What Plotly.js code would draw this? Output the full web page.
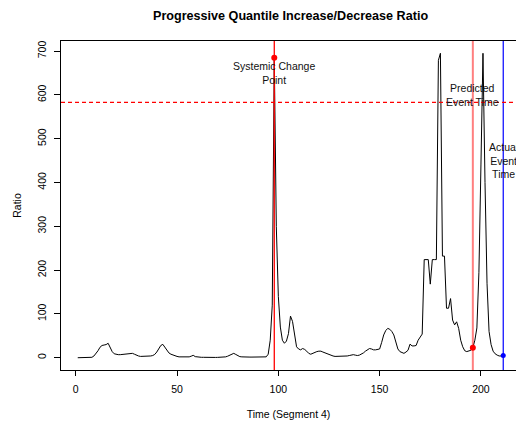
<!DOCTYPE html>
<html>
<head>
<meta charset="utf-8">
<script src="https://cdn.plot.ly/plotly-3.0.1.min.js"></script>
<style>html,body{margin:0;padding:0;background:#fff;}#chart{width:516px;height:424px;}</style>
</head>
<body>
<div id="chart"></div>
<script>
// Ratio per time step (segment 4), t = 1 .. 211
const ratio = [
  0, 0, 0, 0, 0, 0, 0.5, 1, 4, 9,
  16, 24, 28, 29, 30, 33, 24, 14, 9, 7.5,
  7, 7, 7.5, 8, 8.5, 9.5, 10.5, 10, 8, 5.5,
  4, 3, 3, 3, 3, 3.5, 4, 5, 7.5, 13,
  21, 28, 30.5, 23, 16, 11, 8, 6, 4, 3,
  2, 2, 1.5, 1.5, 1.5, 2, 3.5, 5.5, 2.5, 1.5,
  1, 1, 1, 0.7, 0.7, 0.7, 0.7, 0.7, 0.7, 0.8,
  1, 1.2, 1.5, 2, 3.5, 6, 8, 10, 7.5, 4.5,
  2.5, 2, 1.5, 1.5, 1.5, 1.5, 1.5, 1.5, 1.5, 1.5,
  1.5, 1.5, 1.8, 2, 8, 40, 120, 685, 300, 140,
  70, 40, 33, 38, 55, 95, 83, 55, 25, 20,
  18, 21, 19, 15, 10, 8, 10, 13, 14, 15,
  15, 13, 11, 9, 7, 5, 4, 3, 3, 2.5,
  2.5, 3, 3.5, 4, 5, 6, 7, 6, 5, 6,
  8, 11, 15, 19, 21, 20, 18, 18, 19, 20,
  35, 52, 62, 67, 65, 60, 52, 35, 20, 14,
  11, 10, 13, 17, 31, 27, 27, 28, 40, 47,
  54, 224, 224, 224, 168, 224, 224, 224, 679, 695,
  232, 232, 113, 113, 135, 86, 75, 82, 67, 40,
  25, 16, 14, 15, 17, 23, 40, 68, 195, 440,
  695, 400, 170, 60, 30, 15, 9, 6, 4, 4, 5
];
const timeSteps = ratio.map((_, i) => i + 1);

const changePoint = 98;      // systemic change point
const predictedTime = 196;   // predicted event time
const actualTime = 211;      // actual event time
const threshold = 583;       // dashed threshold level

const xTicks = [0, 50, 100, 150, 200];
const yTicks = [0, 100, 200, 300, 400, 500, 600, 700];

const labelChange = "Systemic Change<br>Point";
const labelPredicted = "Predicted<br>Event Time";
const labelActual = "Actual<br>Event<br>Time";

const FONT = "Liberation Sans, Arial, Helvetica, sans-serif";

const traces = [
  {x: timeSteps, y: ratio, type: "scatter", mode: "lines",
   line: {color: "#000", width: 1}, hoverinfo: "skip"},
  {x: [changePoint], y: [ratio[changePoint - 1]], type: "scatter", mode: "markers",
   marker: {color: "#ff0000", size: 6}},
  {x: [predictedTime], y: [ratio[predictedTime - 1]], type: "scatter", mode: "markers",
   marker: {color: "#ff0000", size: 6}},
  {x: [actualTime], y: [ratio[actualTime - 1]], type: "scatter", mode: "markers",
   marker: {color: "#0000ff", size: 5}}
];

const layout = {
  width: 516, height: 424,
  margin: {l: 61.3, r: 0, t: 40.7, b: 54},
  paper_bgcolor: "#fff", plot_bgcolor: "#fff",
  showlegend: false,
  font: {family: FONT, size: 10.5, color: "#000"},
  title: {text: "Progressive Quantile Increase/Decrease Ratio",
          font: {family: FONT, size: 12.6, weight: "bold", color: "#000"},
          xref: "paper", x: 0.5045, xanchor: "center",
          yref: "container", y: 1 - 15.5/424, yanchor: "middle"},
  xaxis: {range: [-7.26, 217.3], showgrid: false, zeroline: false,
          showline: true, linecolor: "#000", linewidth: 1, mirror: true,
          ticks: "outside", ticklen: 5, tickcolor: "#000", tickwidth: 1,
          tickmode: "array", tickvals: xTicks, ticktext: xTicks.map(String),
          tickfont: {size: 10.5}, ticklabelstandoff: 4,
          title: {text: "Time (Segment 4)", font: {size: 10.5}, standoff: 17}},
  yaxis: {range: [-28, 723], showgrid: false, zeroline: false,
          showline: true, linecolor: "#000", linewidth: 1,
          ticks: "outside", ticklen: 6, tickcolor: "#000", tickwidth: 1,
          tickmode: "array", tickvals: yTicks, ticktext: yTicks.map(String),
          tickangle: -90, tickfont: {size: 10.5}, ticklabelstandoff: 4,
          title: {text: "Ratio", font: {size: 10.5}, standoff: 12}},
  shapes: [
    {type: "line", xref: "x", yref: "paper", x0: changePoint, x1: changePoint, y0: 0, y1: 1,
     line: {color: "#ff0000", width: 1.3}},
    {type: "line", xref: "x", yref: "paper", x0: predictedTime, x1: predictedTime, y0: 0, y1: 1,
     line: {color: "rgba(255,0,0,0.5)", width: 2}},
    {type: "line", xref: "x", yref: "paper", x0: actualTime, x1: actualTime, y0: 0, y1: 1,
     line: {color: "#0000ff", width: 1.2}},
    {type: "line", xref: "paper", yref: "y", x0: 0, x1: 1, y0: threshold, y1: threshold,
     line: {color: "#ff0000", width: 1.2, dash: "4px,3px"}}
  ],
  annotations: [
    {x: changePoint, y: 650, xref: "x", yref: "y", text: labelChange, showarrow: false,
     xanchor: "center", yanchor: "middle", font: {size: 10.5, color: "#111"}},
    {x: predictedTime, y: 600, xref: "x", yref: "y", text: labelPredicted, showarrow: false,
     xanchor: "center", yanchor: "middle", font: {size: 10.5, color: "#111"}},
    {x: actualTime, y: 450, xref: "x", yref: "y", text: labelActual, showarrow: false,
     xanchor: "center", yanchor: "middle", font: {size: 10.5, color: "#111"}}
  ]
};

Plotly.newPlot("chart", traces, layout, {displayModeBar: false, staticPlot: true});
</script>
</body>
</html>
